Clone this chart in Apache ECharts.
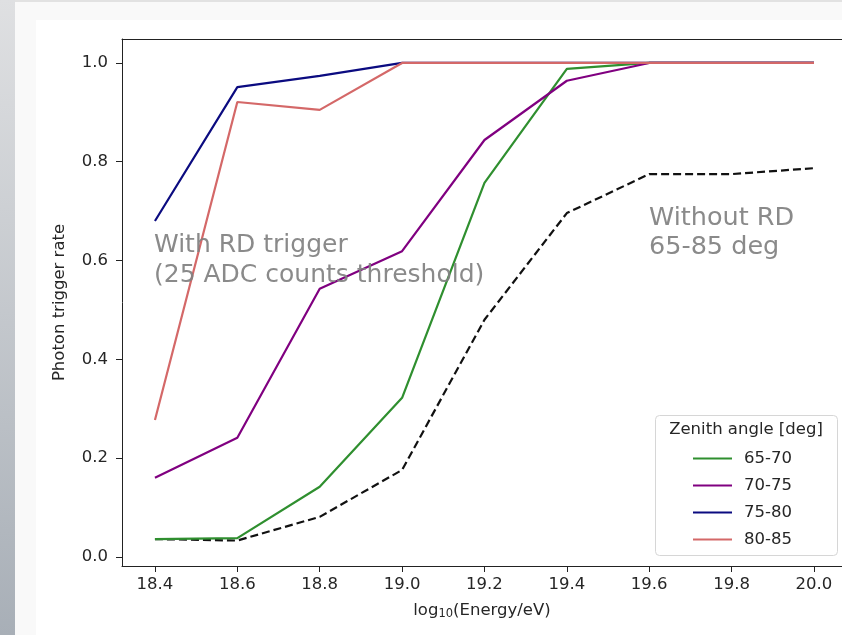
<!DOCTYPE html>
<html>
<head>
<meta charset="utf-8">
<script src="https://cdn.jsdelivr.net/npm/echarts@6/dist/echarts.min.js"></script>
<style>
  html, body { margin: 0; padding: 0; background: #f9f9f9; }
  #main { width: 842px; height: 635px; }
</style>
</head>
<body>
<div id="main"></div>
<script>
// log10(Energy/eV)
const energy = [18.4, 18.6, 18.8, 19.0, 19.2, 19.4, 19.6, 19.8, 20.0];
const xTicks = [18.4, 18.6, 18.8, 19.0, 19.2, 19.4, 19.6, 19.8, 20.0];
const yTicks = [0.0, 0.2, 0.4, 0.6, 0.8, 1.0];

// with RD trigger, per zenith angle bin
const zen6570 = [0.036, 0.038, 0.142, 0.322, 0.757, 0.988, 1.0, 1.0, 1.0];
const zen7075 = [0.160, 0.241, 0.543, 0.619, 0.844, 0.964, 1.0, 1.0, 1.0];
const zen7580 = [0.680, 0.951, 0.974, 1.0, 1.0, 1.0, 1.0, 1.0, 1.0];
const zen8085 = [0.277, 0.921, 0.905, 1.0, 1.0, 1.0, 1.0, 1.0, 1.0];
// without RD, 65-85 deg
const withoutRD = [0.036, 0.033, 0.081, 0.176, 0.480, 0.696, 0.775, 0.775, 0.787];

const seriesNames = ["65-70", "70-75", "75-80", "80-85"];
const seriesColors = ["#2f8f2f", "#800080", "#0b0b80", "#d46868"];

const font = "DejaVu Sans";

const pairs = (ys) => energy.map((x, i) => [x, ys[i]]);

const lineSeries = [zen6570, zen7075, zen7580, zen8085].map((ys, i) => ({
  name: seriesNames[i],
  type: "line",
  data: pairs(ys),
  symbol: "none",
  lineStyle: { color: seriesColors[i], width: 2.2 },
  itemStyle: { color: seriesColors[i] },
  z: 3 + i,
}));
lineSeries.push({
  name: "without RD",
  type: "line",
  data: pairs(withoutRD),
  symbol: "none",
  lineStyle: { color: "#111", width: 2.2, type: [8, 4] },
  z: 2,
});

var myChart = echarts.init(document.getElementById("main"));
myChart.setOption({
  animation: false,
  backgroundColor: "#f9f9f9",
  textStyle: { fontFamily: font },
  graphic: [
    // frame around the slide
    { type: "rect", z: -100, silent: true, shape: { x: 36, y: 20, width: 806, height: 615 }, style: { fill: "#ffffff" } },
    { type: "rect", z: -100, silent: true, shape: { x: 0, y: 0, width: 842, height: 2 }, style: { fill: "#e2e2e2" } },
    {
      type: "rect", z: -100, silent: true,
      shape: { x: 0, y: 0, width: 15, height: 635 },
      style: {
        fill: new echarts.graphic.LinearGradient(0, 0, 0, 1, [
          { offset: 0, color: "#dfe0e2" },
          { offset: 1, color: "#a8afb7" },
        ]),
      },
    },
    // annotations
    {
      type: "text", z: 100, silent: true, left: 154, top: 230,
      style: {
        text: "With RD trigger\n(25 ADC counts threshold)",
        font: "25px 'DejaVu Sans'", fill: "rgba(128,128,128,0.92)", lineHeight: 30,
      },
    },
    {
      type: "text", z: 100, silent: true, left: 649, top: 204,
      style: {
        text: "Without RD\n65-85 deg",
        font: "25.5px 'DejaVu Sans'", fill: "rgba(128,128,128,0.92)", lineHeight: 29,
      },
    },
    // legend box and title
    {
      type: "rect", z: 90, silent: true,
      shape: { x: 655.5, y: 415.5, width: 182, height: 140, r: 4 },
      style: { fill: "rgba(255,255,255,0.85)", stroke: "#d6d6d6", lineWidth: 1 },
    },
    {
      type: "text", z: 100, silent: true, x: 746, y: 430,
      style: {
        text: "Zenith angle [deg]", font: "16.5px 'DejaVu Sans'", fill: "#262626",
        align: "center", verticalAlign: "middle",
      },
    },
  ],
  legend: {
    data: seriesNames,
    orient: "vertical",
    left: 693,
    top: 450,
    z: 100,
    itemWidth: 39,
    itemHeight: 2,
    itemGap: 10,
    icon: "rect",
    padding: 0,
    textStyle: { fontFamily: font, fontSize: 16.5, color: "#262626", padding: [0, 0, 0, 7] },
  },
  grid: {
    left: 122,
    top: 39,
    right: 0,
    bottom: 69,
    show: false,
  },
  xAxis: [
    {
      type: "value",
      min: 18.32,
      max: 20.068,
      name: "log{sub|10}(Energy/eV)",
      nameLocation: "middle",
      nameGap: 36,
      nameTextStyle: {
        fontFamily: font, fontSize: 16.5, color: "#262626",
        rich: { sub: { fontFamily: font, fontSize: 11.5, color: "#262626", verticalAlign: "bottom", padding: [6, 0, 0, 0] } },
      },
      splitLine: { show: false },
      axisLine: { show: true, onZero: false, lineStyle: { color: "#222", width: 1 } },
      axisTick: { show: true, inside: false, length: 6, lineStyle: { color: "#222" }, customValues: xTicks },
      axisLabel: {
        customValues: xTicks, margin: 10, fontFamily: font, fontSize: 16.5, color: "#262626",
        formatter: (v) => v.toFixed(1),
      },
    },
    {
      type: "value",
      position: "top",
      min: 18.32,
      max: 20.068,
      splitLine: { show: false },
      axisLine: { show: true, onZero: false, lineStyle: { color: "#222", width: 1 } },
      axisTick: { show: false },
      axisLabel: { show: false },
    },
  ],
  yAxis: {
    type: "value",
    min: -0.0185,
    max: 1.0485,
    name: "Photon trigger rate",
    nameLocation: "middle",
    nameGap: 54,
    nameRotate: 90,
    nameTextStyle: { fontFamily: font, fontSize: 16.5, color: "#262626" },
    splitLine: { show: false },
    axisLine: { show: true, onZero: false, lineStyle: { color: "#222", width: 1 } },
    axisTick: { show: true, inside: false, length: 6, lineStyle: { color: "#222" }, customValues: yTicks },
    axisLabel: {
      customValues: yTicks, margin: 14, fontFamily: font, fontSize: 16.5, color: "#262626",
      formatter: (v) => v.toFixed(1),
    },
  },
  series: lineSeries,
});
</script>
</body>
</html>
